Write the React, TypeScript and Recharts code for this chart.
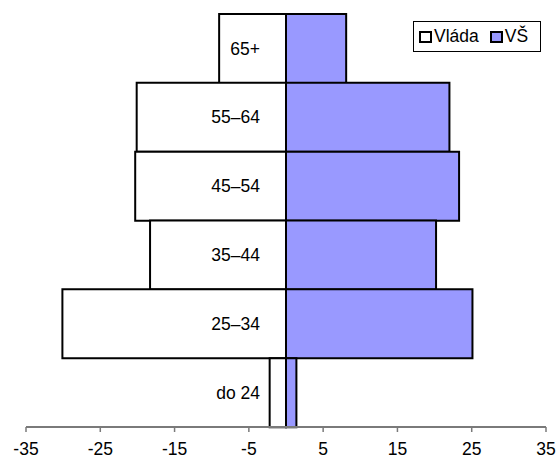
import React from 'react';
import { BarChart, Bar, XAxis, YAxis, Legend, LabelList } from 'recharts';

// age groups, top to bottom
const ageGroups = ['65+', '55–64', '45–54', '35–44', '25–34', 'do 24'];
// share per group, government drawn to the left (negative)
const vladaShare = [-9, -20.1, -20.3, -18.3, -30.1, -2.2];
const vsShare = [8.1, 22, 23.3, 20.2, 25.1, 1.4];
const xTicks = [-35, -25, -15, -5, 5, 15, 25, 35];

const FONT = 'Arial, "Liberation Sans", sans-serif';
const FONT_SIZE = 17.5;
const VS_FILL = '#9999ff';
const AXIS_GREY = '#7a7a7a';

const rows = ageGroups.map((age, i) => ({
  age,
  vlada: vladaShare[i],
  vs: vsShare[i],
}));

// age label sits just left of the zero line, inside the left bar
const AgeLabel = (props: any) => {
  const box = props.viewBox ?? props;
  const { x, y, width, height } = box;
  const zeroX = Math.max(x, x + width);
  return (
    <text
      x={zeroX - 26}
      y={y + height / 2}
      textAnchor="end"
      dominantBaseline="central"
      fontFamily={FONT}
      fontSize={FONT_SIZE}
      fill="#000"
    >
      {props.value}
    </text>
  );
};

const LegendBox = (props: any) => {
  const items = props.payload ?? [];
  return (
    <div
      style={{
        boxSizing: 'border-box',
        width: 128,
        height: 31,
        border: '1px solid #000',
        background: '#fff',
        display: 'flex',
        alignItems: 'center',
        paddingLeft: 5,
        fontFamily: FONT,
        fontSize: FONT_SIZE,
        color: '#000',
      }}
    >
      {items.map((entry: any, i: number) => (
        <React.Fragment key={entry.value}>
          <span
            style={{
              boxSizing: 'border-box',
              display: 'inline-block',
              width: 13,
              height: 12,
              border: '2px solid #000',
              background: entry.color,
              marginLeft: i === 0 ? 0 : 11,
            }}
          />
          <span style={{ marginLeft: 2 }}>{entry.value}</span>
        </React.Fragment>
      ))}
    </div>
  );
};

export default function App() {
  return (
    <div style={{ position: 'absolute', left: 0, top: 0, background: '#fff' }}>
      <BarChart
        width={556}
        height={459}
        data={rows}
        layout="vertical"
        stackOffset="sign"
        barCategoryGap={0}
        margin={{ top: 14, right: 10, left: 26, bottom: 0 }}
      >
        <XAxis
          type="number"
          domain={[-35, 35]}
          ticks={xTicks}
          interval={0}
          height={32}
          tickSize={5}
          tickMargin={11}
          axisLine={{ stroke: AXIS_GREY, strokeWidth: 2 }}
          tickLine={{ stroke: AXIS_GREY, strokeWidth: 1.5 }}
          tick={{ fill: '#000', fontFamily: FONT, fontSize: FONT_SIZE }}
        />
        <YAxis type="category" dataKey="age" hide />
        <Legend
          layout="horizontal"
          align="center"
          verticalAlign="middle"
          content={<LegendBox />}
          wrapperStyle={{ top: 21, left: 413, width: 128, height: 31 }}
        />
        <Bar
          dataKey="vlada"
          name="Vláda"
          stackId="age"
          fill="#fff"
          stroke="#000"
          strokeWidth={2}
          isAnimationActive={false}
        >
          <LabelList dataKey="age" content={<AgeLabel />} />
        </Bar>
        <Bar
          dataKey="vs"
          name="VŠ"
          stackId="age"
          fill={VS_FILL}
          stroke="#000"
          strokeWidth={2}
          isAnimationActive={false}
        />
      </BarChart>
    </div>
  );
}
